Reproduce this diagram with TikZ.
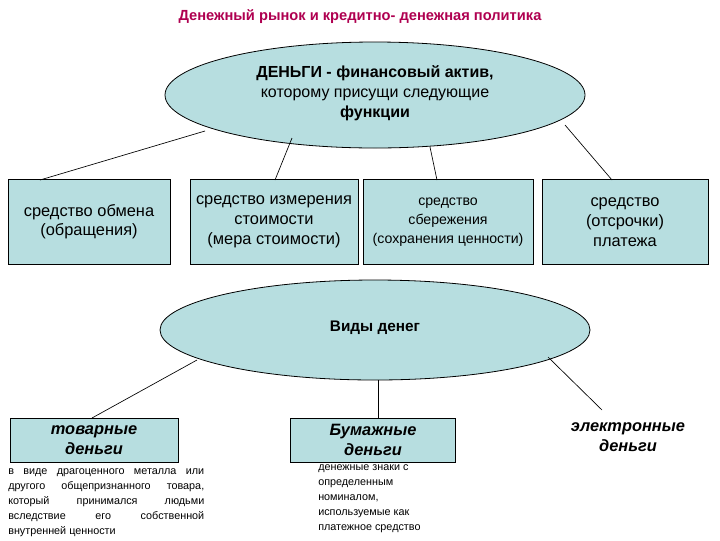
\documentclass[tikz,border=0pt]{standalone}
\usepackage{fontspec}
\setmainfont{Liberation Sans}
\definecolor{fillc}{RGB}{183,222,224}
\definecolor{titc}{RGB}{175,0,80}
\begin{document}
\begin{tikzpicture}[x=0.75pt,y=-0.75pt,
  box/.style={draw,fill=fillc,line width=0.6pt,inner sep=0pt,align=center},
  conn/.style={line width=0.5pt}]
\useasboundingbox (0,0) rectangle (720,540);
\node[font=\bfseries\fontsize{11}{12}\selectfont,text=titc] (title) at (360,17) {Денежный рынок и кредитно- денежная политика};
\draw[fill=fillc,line width=0.6pt] (375,95) ellipse (210 and 53);
\node[align=center,font=\fontsize{12}{15}\selectfont] (money) at (375,93) {\textbf{ДЕНЬГИ - финансовый актив,}\\ которому присущи следующие\\ \textbf{функции}};
\node[box,minimum width=162*0.75pt,minimum height=85*0.75pt,font=\fontsize{12.3}{14.5}\selectfont] (b1) at (89,222) {средство обмена\\(обращения)};
\node[box,minimum width=168*0.75pt,minimum height=85*0.75pt,font=\fontsize{12.3}{15}\selectfont] (b2) at (274,222) {средство измерения\\стоимости\\(мера стоимости)};
\node[box,minimum width=170*0.75pt,minimum height=85*0.75pt,font=\fontsize{10.6}{14}\selectfont] (b3) at (448,222) {средство\\сбережения\\(сохранения ценности)};
\node[box,minimum width=166*0.75pt,minimum height=85*0.75pt,font=\fontsize{12.3}{15}\selectfont] (b4) at (625,222) {средство\\(отсрочки)\\платежа};
\coordinate (e1a) at (205,131); \coordinate (b1t) at (40,180);
\coordinate (e1b) at (292,138); \coordinate (b2t) at (275,180);
\coordinate (e1c) at (430,147); \coordinate (b3t) at (437,180);
\coordinate (e1d) at (565,125); \coordinate (b4t) at (612,180);
\draw[conn] (e1a) -- (b1t); \draw[conn] (e1b) -- (b2t);
\draw[conn] (e1c) -- (b3t); \draw[conn] (e1d) -- (b4t);
\draw[fill=fillc,line width=0.6pt] (375,330) ellipse (215 and 50);
\node[font=\bfseries\fontsize{11.5}{12}\selectfont] (kinds) at (375,328) {Виды денег};
\node[box,minimum width=168*0.75pt,minimum height=44*0.75pt,font=\bfseries\itshape\fontsize{12.3}{15}\selectfont] (b5) at (94,440) {товарные\\деньги};
\node[box,minimum width=165*0.75pt,minimum height=44*0.75pt,font=\bfseries\itshape\fontsize{12.3}{15}\selectfont] (b6) at (373,440) {Бумажные\\деньги};
\node[align=center,font=\bfseries\itshape\fontsize{12.3}{15}\selectfont] (b7) at (628,437) {электронные\\деньги};
\coordinate (e2a) at (197,360); \coordinate (b5t) at (92,418);
\coordinate (e2b) at (378,380); \coordinate (b6t) at (378,418);
\coordinate (e2c) at (548,357); \coordinate (b7t) at (602,410);
\draw[conn] (e2a) -- (b5t); \draw[conn] (e2b) -- (b6t); \draw[conn] (e2c) -- (b7t);
\node[anchor=north west,text width=196*0.75pt,align=justify,inner sep=0pt,font=\fontsize{8.1}{11.3}\selectfont] (d1) at (8,468) {в виде драгоценного металла или другого общепризнанного товара, который принимался людьми вследствие его собственной внутренней ценности};
\node[anchor=north west,align=left,inner sep=0pt,font=\fontsize{8.1}{11.3}\selectfont] (d2) at (318,464) {денежные знаки с\\определенным\\номиналом,\\используемые как\\платежное средство};
\end{tikzpicture}
\end{document}
